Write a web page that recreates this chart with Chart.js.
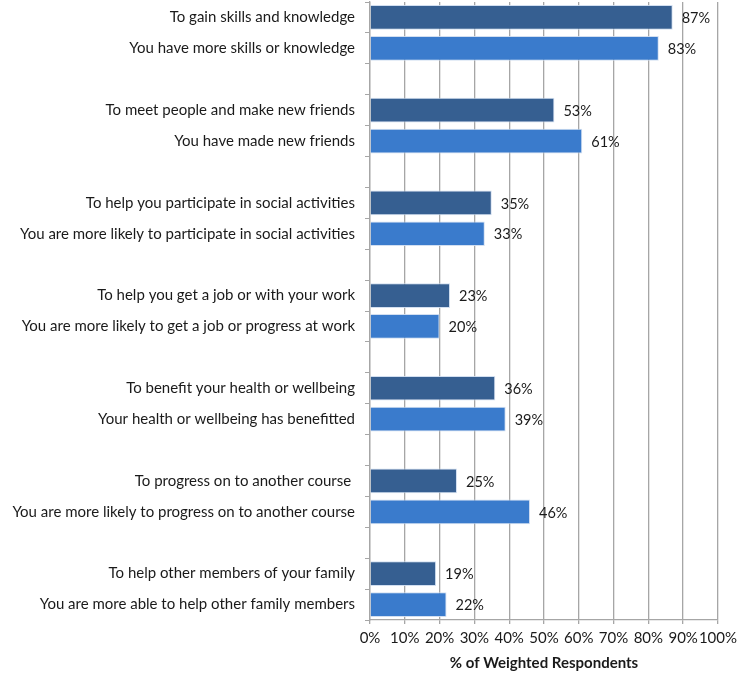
<!DOCTYPE html>
<html>
<head>
<meta charset="utf-8">
<script src="https://cdn.jsdelivr.net/npm/chart.js@4/dist/chart.umd.min.js"></script>
<style>
  html, body { margin:0; padding:0; background:#fff; }
  #wrap { width:742px; height:675px; }
</style>
</head>
<body>
<div id="wrap"><canvas id="reasonChart" width="742" height="675"></canvas></div>
<script>
// ===== DATA =====
// empty labels are spacer rows between the question pairs
const categories = [
  "To gain skills and knowledge",
  "You have more skills or knowledge",
  "",
  "To meet people and make new friends",
  "You have made new friends",
  "",
  "To help you participate in social activities",
  "You are more likely to participate in social activities",
  "",
  "To help you get a job or with your work",
  "You are more likely to get a job or progress at work",
  "",
  "To benefit your health or wellbeing",
  "Your health or wellbeing has benefitted",
  "",
  "To progress on to another course ",
  "You are more likely to progress on to another course",
  "",
  "To help other members of your family",
  "You are more able to help other family members"
];
const values = [87, 83, null, 53, 61, null, 35, 33, null, 23, 20, null, 36, 39, null, 25, 46, null, 19, 22];
const xTicks = [0, 10, 20, 30, 40, 50, 60, 70, 80, 90, 100];

const DARK = '#365f91';
const LIGHT = '#3a7bcc';
const barColors = categories.map((c, i) => (i % 3 === 0 ? DARK : LIGHT));
const FONT = 'Lato, "Noto Sans", sans-serif';

// ===== VALUE LABELS =====
const valueLabels = {
  id: 'valueLabels',
  afterDatasetsDraw(chart){
    const ctx = chart.ctx;
    const meta = chart.getDatasetMeta(0);
    ctx.save();
    ctx.font = '14.5px ' + FONT;
    ctx.fillStyle = '#1a1a1a';
    ctx.textBaseline = 'middle';
    ctx.textAlign = 'left';
    meta.data.forEach((bar, i) => {
      const v = values[i];
      if(v === null) return;
      ctx.fillText(v + '%', bar.x + 9, bar.y + 1);
    });
    ctx.restore();
  }
};

// ===== CHART =====
const chart = new Chart(document.getElementById('reasonChart'), {
  type: 'bar',
  data: {
    labels: categories,
    datasets: [{
      data: values,
      backgroundColor: barColors,
      borderColor: 'rgba(205,220,240,0.9)',
      borderWidth: 1,
      barPercentage: 0.8,
      categoryPercentage: 1.0
    }]
  },
  options: {
    indexAxis: 'y',
    responsive: false,
    animation: false,
    layout: { padding: { top: 2, right: 23, left: 0, bottom: 0 } },
    plugins: {
      legend: { display: false },
      tooltip: { enabled: false }
    },
    scales: {
      x: {
        min: 0,
        max: 100,
        afterBuildTicks: (s) => { s.ticks = xTicks.map(v => ({ value: v })); },
        afterFit: (s) => { s.height = 55; },
        ticks: {
          callback: (v) => v + '%',
          color: '#1a1a1a',
          font: { family: FONT, size: 15 },
          padding: 5,
          maxRotation: 0,
          autoSkip: false
        },
        grid: {
          color: '#a6a6a6',
          lineWidth: 1.3,
          tickLength: 4,
          tickColor: '#a6a6a6'
        },
        border: { color: '#a6a6a6', width: 1.3 },
        title: {
          display: true,
          text: '% of Weighted Respondents',
          color: '#1a1a1a',
          font: { family: FONT, size: 15, weight: 'bold' },
          padding: { top: 2, bottom: 3 }
        }
      },
      y: {
        afterFit: (s) => {
          s.width = 370;
          s.paddingTop = 0;
          s.paddingBottom = 0;
        },
        ticks: {
          color: '#1a1a1a',
          font: { family: FONT, size: 15 },
          padding: 10,
          autoSkip: false
        },
        grid: {
          offset: true,
          drawOnChartArea: false,
          tickLength: 5,
          tickColor: '#a6a6a6'
        },
        border: { color: '#a6a6a6', width: 1.3 }
      }
    }
  },
  plugins: [valueLabels]
});
</script>
</body>
</html>
